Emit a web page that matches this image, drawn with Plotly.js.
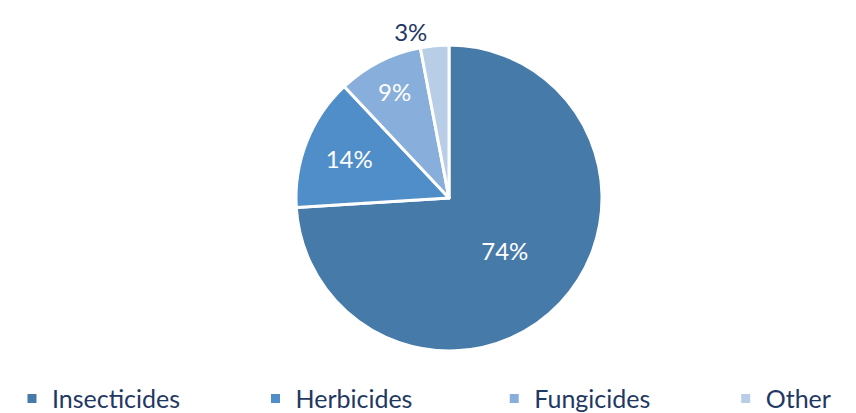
<!DOCTYPE html>
<html><head><meta charset="utf-8">
<script src="https://cdn.plot.ly/plotly-3.0.1.min.js"></script>
<style>html,body{margin:0;padding:0;background:#fff;}#chart{width:856px;height:413px;}</style>
</head><body><div id="chart"></div>
<script>
const categories = ["Insecticides", "Herbicides", "Fungicides", "Other"];
const shares = [74, 14, 9, 3];
const sliceColors = ["#467AA9", "#508EC9", "#88AEDB", "#B8CDE6"];
const textPositions = ["inside", "inside", "inside", "outside"];
const textColors = ["#ffffff", "#ffffff", "#ffffff", "#1F3864"];

// trailing non-breaking spaces widen the legend entries (spacing only)
const legendPad = [11, 12, 11, 0];
const legendLabels = categories.map((c, i) => c + "\u00A0".repeat(legendPad[i]));

const trace = {
  type: "pie",
  labels: legendLabels,
  values: shares,
  sort: false,
  direction: "clockwise",
  rotation: 0,
  marker: {colors: sliceColors, line: {color: "#ffffff", width: 3}},
  texttemplate: "%{percent:.0%}",
  textposition: textPositions,
  insidetextorientation: "horizontal",
  textfont: {family: "Lato, 'Open Sans', sans-serif", size: 24, color: textColors},
  outsidetextfont: {family: "Lato, 'Open Sans', sans-serif", size: 24, color: "#1F3864"},
  automargin: false,
  hoverinfo: "label+percent",
  domain: {x: [296/856, 602/856], y: [0, 1]},
  showlegend: true
};

const layout = {
  width: 856, height: 413,
  margin: {l: 0, r: 0, t: 45, b: 62},
  paper_bgcolor: "#ffffff",
  plot_bgcolor: "#ffffff",
  showlegend: true,
  legend: {
    orientation: "h",
    xref: "container", yref: "container",
    x: 0.014, xanchor: "left",
    y: 0.09, yanchor: "top",
    font: {family: "Lato, 'Open Sans', sans-serif", size: 25, color: "#1F3864"},
    itemwidth: 30,
    traceorder: "normal"
  }
};
Plotly.newPlot("chart", [trace], layout, {displayModeBar: false, staticPlot: true});
</script></body></html>
